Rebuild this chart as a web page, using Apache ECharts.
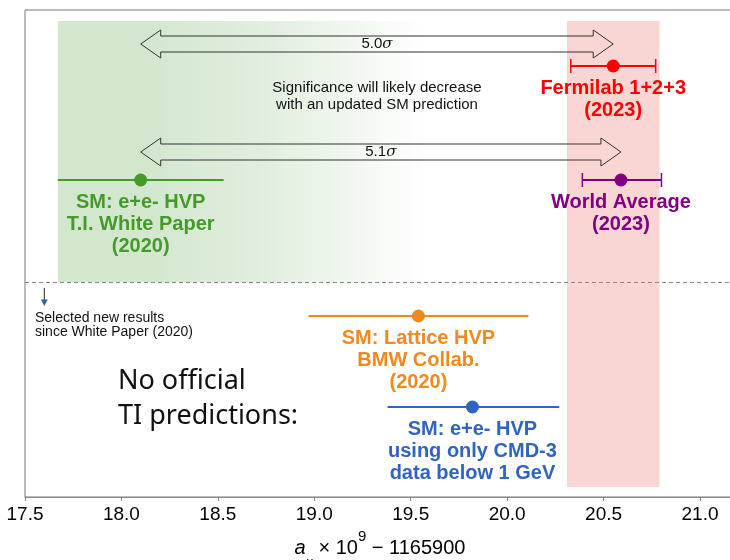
<!DOCTYPE html>
<html><head><meta charset="utf-8">
<script src="https://cdn.jsdelivr.net/npm/echarts@6/dist/echarts.min.js"></script>
<style>html,body{margin:0;padding:0;background:#fff}#c{width:730px;height:560px}</style>
</head><body><div id="c"></div>
<script>
// ---- data ----
const measLabels = ['Fermilab 1+2+3\n(2023)', 'World Average\n(2023)', 'SM: e+e- HVP\nT.I. White Paper\n(2020)', 'SM: Lattice HVP\nBMW Collab.\n(2020)', 'SM: e+e- HVP\nusing only CMD-3\ndata below 1 GeV'];
const centers = [20.55, 20.59, 18.10, 19.54, 19.82];
const lows    = [20.33, 20.39, 17.67, 18.97, 19.38];
const highs   = [20.77, 20.80, 18.53, 20.11, 20.27];
const rows    = [56, 170, 170, 306, 397];
const caps    = [1, 1, 0, 0, 0];
const colors  = ['#ff0000', '#800080', '#469a2a', '#f08a1e', '#2f64c0'];

const arrowFrom  = [18.10, 18.10];
const arrowTo    = [20.55, 20.59];
const arrowRows  = [34, 142];
const arrowTexts = ['5.0', '5.1'];

const greenBand = [17.67, 20.31];
const pinkBand  = [20.31, 20.79];
const bandRows  = { greenTop: 11, greenBottom: 272, pinkTop: 11, pinkBottom: 477 };
const dividerRow = 272;

const xTicks = [17.5, 18.0, 18.5, 19.0, 19.5, 20.0, 20.5, 21.0];

const FONT = 'Liberation Sans, Arial, Helvetica, sans-serif';

const chart = echarts.init(document.getElementById('c'), null, {renderer: 'canvas'});

const scatterData = centers.map((c, i) => ({
  value: [c, rows[i]],
  itemStyle: {color: colors[i], opacity: 1},
  label: {
    show: true, position: 'bottom', distance: 5,
    formatter: measLabels[i], color: colors[i], opacity: 1,
    fontSize: 20, fontWeight: 'bold', lineHeight: 22, fontFamily: FONT, align: 'center'
  }
}));

const option = {
  animation: false,
  grid: {left: 25, right: -5, top: 10, bottom: 63, show: true, borderColor: '#777', borderWidth: 1, outerBoundsMode: 'none', containLabel: false},
  xAxis: {
    type: 'value', min: 17.5, max: 17.5 + 710 / 192.86, interval: 0.5,
    axisLine: {show: true, onZero: false, lineStyle: {color: '#888', width: 1.2}},
    axisTick: {show: true, length: 4, lineStyle: {color: '#888'}},
    splitLine: {show: false},
    axisLabel: {
      showMaxLabel: false, color: '#000', fontSize: 19, fontFamily: FONT, margin: 8,
      formatter: v => xTicks.some(t => Math.abs(t - v) < 1e-6) ? v.toFixed(1) : ''
    },
    name: '{i|a}{sub|μ}{n| × 10}{sup|9}{n| − 1165900}',
    nameLocation: 'middle', nameGap: 26,
    nameTextStyle: {
      color: '#000', fontFamily: FONT, verticalAlign: 'top',
      rich: {
        i: {fontStyle: 'italic', fontSize: 20, fontFamily: FONT, color: '#000', lineHeight: 40, verticalAlign: 'middle'},
        sub: {fontStyle: 'italic', fontSize: 13, fontFamily: FONT, color: '#000', lineHeight: 13, verticalAlign: 'bottom'},
        n: {fontSize: 20, fontFamily: FONT, color: '#000', lineHeight: 40, verticalAlign: 'middle'},
        sup: {fontSize: 15, fontFamily: FONT, color: '#000', lineHeight: 15, verticalAlign: 'top'}
      }
    }
  },
  yAxis: {type: 'value', min: 0, max: 487, inverse: true, show: false, splitLine: {show: false}},
  series: [
    {
      type: 'line', data: [], silent: true, z: 0,
      markArea: {
        silent: true, z: 0,
        data: [
          [{xAxis: greenBand[0], yAxis: bandRows.greenTop, itemStyle: {color: {type: 'linear', x: 0, y: 0, x2: 1, y2: 0, colorStops: [
            {offset: 0, color: 'rgba(211,231,207,1)'}, {offset: 0.18, color: 'rgba(211,231,207,1)'},
            {offset: 0.45, color: 'rgba(211,231,207,0.6)'}, {offset: 0.72, color: 'rgba(211,231,207,0)'}, {offset: 1, color: 'rgba(211,231,207,0)'}]}}},
           {xAxis: greenBand[1], yAxis: bandRows.greenBottom}],
          [{xAxis: pinkBand[0], yAxis: bandRows.pinkTop, itemStyle: {color: '#f9d5d3'}},
           {xAxis: pinkBand[1], yAxis: bandRows.pinkBottom}]
        ]
      },
      markLine: {
        silent: true, symbol: 'none', label: {show: false},
        lineStyle: {color: '#888', type: [4, 3], width: 1},
        data: [[{coord: [17.5, dividerRow]}, {coord: [21.18, dividerRow]}]]
      }
    },
    {
      type: 'custom', z: 3, silent: true,
      data: lows.map((l, i) => [l, highs[i], rows[i], caps[i], i]),
      encode: {x: [0, 1], y: 2},
      renderItem(params, api) {
        const i = api.value(4);
        const p1 = api.coord([api.value(0), api.value(2)]);
        const p2 = api.coord([api.value(1), api.value(2)]);
        const col = colors[i];
        const ch = [{type: 'line', shape: {x1: p1[0], y1: p1[1], x2: p2[0], y2: p2[1]}, style: {stroke: col, lineWidth: 2}}];
        if (api.value(3)) {
          [p1, p2].forEach(p => ch.push({type: 'line', shape: {x1: p[0], y1: p[1] - 7, x2: p[0], y2: p[1] + 7}, style: {stroke: col, lineWidth: 1.5}}));
        }
        return {type: 'group', children: ch};
      }
    },
    {
      type: 'custom', z: 2, silent: true,
      data: arrowFrom.map((a, i) => [a, arrowTo[i], arrowRows[i], i]),
      encode: {x: [0, 1], y: 2},
      renderItem(params, api) {
        const a = api.coord([api.value(0), api.value(2)]);
        const b = api.coord([api.value(1), api.value(2)]);
        const y = a[1], x1 = a[0], x2 = b[0], hl = 20, hh = 14, sh = 8;
        const pts = [[x1, y], [x1 + hl, y - hh], [x1 + hl, y - sh], [x2 - hl, y - sh], [x2 - hl, y - hh], [x2, y],
                     [x2 - hl, y + hh], [x2 - hl, y + sh], [x1 + hl, y + sh], [x1 + hl, y + hh]];
        return {type: 'group', children: [
          {type: 'polygon', shape: {points: pts}, style: {fill: 'rgba(0,0,0,0)', stroke: '#333', lineWidth: 1}},
          {type: 'text', x: (x1 + x2) / 2, y: y, style: {
            text: '{n|' + arrowTexts[api.value(3)] + '}{s|σ}', align: 'center', verticalAlign: 'middle',
            rich: {n: {fontSize: 15, fontFamily: FONT, fill: '#111'}, s: {fontSize: 15, fontFamily: 'DejaVu Serif, serif', fontStyle: 'italic', fill: '#111'}}
          }}
        ]};
      }
    },
    {
      type: 'scatter', z: 4, symbol: 'circle', symbolSize: 13, silent: true,
      itemStyle: {opacity: 1},
      data: scatterData
    }
  ],
  graphic: [
    {type: 'text', x: 377, y: 96.5, z: 50, silent: true, style: {text: 'Significance will likely decrease\nwith an updated SM prediction', align: 'center', verticalAlign: 'middle', fontSize: 15, lineHeight: 17, fontFamily: FONT, fill: '#111'}},
    {type: 'text', x: 35, y: 325, z: 50, silent: true, style: {text: 'Selected new results\nsince White Paper (2020)', align: 'left', verticalAlign: 'middle', fontSize: 14, lineHeight: 14, fontFamily: FONT, fill: '#111'}},
    {type: 'text', x: 118, y: 399, z: 50, silent: true, style: {text: 'No official\nTI predictions:', align: 'left', verticalAlign: 'middle', fontSize: 27, lineHeight: 35, fontFamily: 'Noto Sans, sans-serif', fill: '#111'}},
    {type: 'line', z: 50, silent: true, shape: {x1: 44.3, y1: 288, x2: 44.3, y2: 301}, style: {stroke: '#222', lineWidth: 1}},
    {type: 'polygon', z: 50, silent: true, shape: {points: [[40.8, 299.5], [47.8, 299.5], [44.3, 306]]}, style: {fill: '#2c68b3'}}
  ]
};
chart.setOption(option);
</script>
</body></html>
